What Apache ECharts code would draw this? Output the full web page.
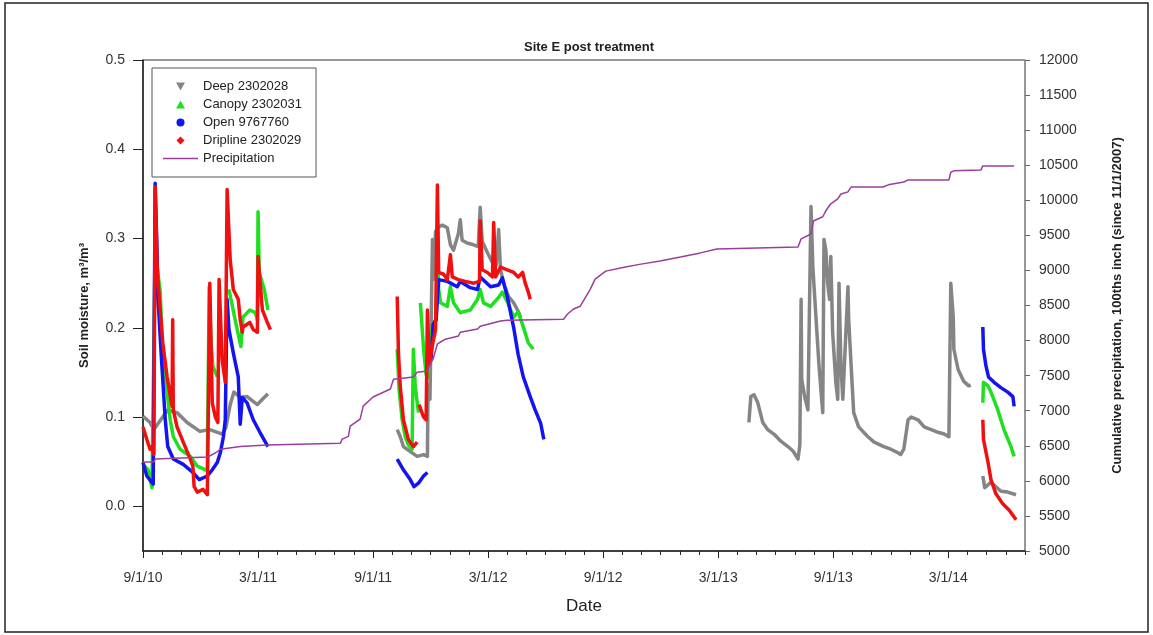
<!DOCTYPE html>
<html>
<head>
<meta charset="utf-8">
<title>Site E post treatment</title>
<script src="https://cdn.jsdelivr.net/npm/echarts/dist/echarts.min.js"></script>
<style>
  html, body { margin: 0; padding: 0; background: #fff; }
  #chart { width: 1153px; height: 635px; }
</style>
</head>
<body>
<div id="chart"></div>
<script>
// x tick labels (every 6 months from 9/1/10)
var xTickLabels = ['9/1/10', '3/1/11', '9/1/11', '3/1/12', '9/1/12', '3/1/13', '9/1/13', '3/1/14'];
var leftTicks = [0, 0.1, 0.2, 0.3, 0.4, 0.5];

// soil moisture readings, [date, m3/m3]; null = gap in the record
var deepData = [
  ['2010-09-01', 0.101], ['2010-09-12', 0.094], ['2010-09-18', 0.086], ['2010-10-10', 0.108],
  ['2010-10-25', 0.105], ['2010-11-10', 0.094], ['2010-11-30', 0.084], ['2010-12-16', 0.086],
  ['2011-01-05', 0.081], ['2011-01-11', 0.088], ['2011-01-18', 0.114], ['2011-01-24', 0.128],
  ['2011-02-03', 0.122], ['2011-02-13', 0.123], ['2011-02-28', 0.114], ['2011-03-08', 0.120],
  ['2011-03-17', 0.126],
  null,
  ['2011-10-09', 0.086], ['2011-10-14', 0.078], ['2011-10-19', 0.067], ['2011-10-25', 0.064],
  ['2011-11-02', 0.060], ['2011-11-10', 0.056], ['2011-11-20', 0.058], ['2011-11-26', 0.056],
  ['2011-11-27', 0.136], ['2011-11-30', 0.120], ['2011-12-04', 0.299], ['2011-12-05', 0.254],
  ['2011-12-09', 0.308], ['2011-12-14', 0.313], ['2011-12-20', 0.315], ['2011-12-28', 0.312],
  ['2012-01-02', 0.293], ['2012-01-07', 0.287], ['2012-01-15', 0.306], ['2012-01-18', 0.321],
  ['2012-01-21', 0.298], ['2012-01-29', 0.295], ['2012-02-08', 0.293], ['2012-02-15', 0.291],
  ['2012-02-18', 0.335], ['2012-02-21', 0.297], ['2012-02-29', 0.284], ['2012-03-08', 0.273],
  ['2012-03-14', 0.270], ['2012-03-18', 0.310], ['2012-03-21', 0.265], ['2012-03-27', 0.248],
  ['2012-04-03', 0.235], ['2012-04-11', 0.228], ['2012-04-17', 0.220], ['2012-04-22', 0.212],
  null,
  ['2013-04-19', 0.094], ['2013-04-22', 0.123], ['2013-04-27', 0.125], ['2013-05-03', 0.116],
  ['2013-05-11', 0.094], ['2013-05-19', 0.086], ['2013-05-29', 0.081], ['2013-06-09', 0.073],
  ['2013-06-20', 0.067], ['2013-06-28', 0.062], ['2013-07-06', 0.053], ['2013-07-09', 0.069],
  ['2013-07-11', 0.232], ['2013-07-12', 0.142], ['2013-07-17', 0.122], ['2013-07-22', 0.108],
  ['2013-07-27', 0.336], ['2013-07-30', 0.268], ['2013-08-04', 0.212], ['2013-08-09', 0.157],
  ['2013-08-15', 0.105], ['2013-08-17', 0.299], ['2013-08-20', 0.287], ['2013-08-23', 0.250],
  ['2013-08-26', 0.232], ['2013-08-28', 0.280], ['2013-08-31', 0.195], ['2013-09-05', 0.139],
  ['2013-09-08', 0.120], ['2013-09-10', 0.250], ['2013-09-13', 0.157], ['2013-09-16', 0.120],
  ['2013-09-24', 0.246], ['2013-09-25', 0.212], ['2013-09-29', 0.157], ['2013-10-03', 0.105],
  ['2013-10-11', 0.089], ['2013-10-26', 0.078], ['2013-11-05', 0.072], ['2013-11-20', 0.067],
  ['2013-12-01', 0.064], ['2013-12-13', 0.060], ['2013-12-17', 0.058], ['2013-12-22', 0.064],
  ['2013-12-29', 0.097], ['2014-01-03', 0.100], ['2014-01-14', 0.097], ['2014-01-24', 0.089],
  ['2014-02-04', 0.086], ['2014-02-14', 0.083], ['2014-02-23', 0.081], ['2014-03-02', 0.078],
  ['2014-03-05', 0.250], ['2014-03-09', 0.212], ['2014-03-10', 0.176], ['2014-03-17', 0.153],
  ['2014-03-26', 0.140], ['2014-04-03', 0.135], ['2014-04-06', 0.136],
  null,
  ['2014-04-25', 0.034], ['2014-04-28', 0.021], ['2014-05-08', 0.027], ['2014-05-24', 0.017],
  ['2014-06-04', 0.016], ['2014-06-17', 0.013]
];

var canopyData = [
  ['2010-09-01', 0.047], ['2010-09-09', 0.041], ['2010-09-15', 0.021], ['2010-09-20', 0.287],
  ['2010-09-28', 0.240], ['2010-10-02', 0.164], ['2010-10-09', 0.128], ['2010-10-14', 0.097],
  ['2010-10-19', 0.078], ['2010-10-30', 0.064], ['2010-11-15', 0.056], ['2010-11-26', 0.045],
  ['2010-12-12', 0.040], ['2010-12-15', 0.246], ['2010-12-18', 0.183], ['2010-12-21', 0.157],
  ['2010-12-28', 0.145],
  null,
  ['2011-01-16', 0.243], ['2011-01-26', 0.209], ['2011-02-04', 0.179], ['2011-02-07', 0.212],
  ['2011-02-17', 0.220], ['2011-02-25', 0.217], ['2011-02-28', 0.209], ['2011-03-01', 0.330],
  ['2011-03-03', 0.262], ['2011-03-11', 0.243], ['2011-03-17', 0.220],
  null,
  ['2011-10-09', 0.176], ['2011-10-12', 0.131], ['2011-10-17', 0.097], ['2011-10-22', 0.078],
  ['2011-10-27', 0.069], ['2011-11-02', 0.064], ['2011-11-04', 0.176], ['2011-11-07', 0.134],
  ['2011-11-12', 0.105],
  null,
  ['2011-11-15', 0.228], ['2011-11-20', 0.176], ['2011-11-24', 0.148], ['2011-11-26', 0.144],
  ['2011-11-30', 0.183], ['2011-12-05', 0.206], ['2011-12-10', 0.209], ['2011-12-12', 0.310],
  ['2011-12-14', 0.243], ['2011-12-17', 0.228], ['2011-12-28', 0.224], ['2012-01-02', 0.246],
  ['2012-01-07', 0.228], ['2012-01-18', 0.217], ['2012-02-03', 0.220], ['2012-02-14', 0.232],
  ['2012-02-18', 0.243], ['2012-02-23', 0.228], ['2012-03-05', 0.224], ['2012-03-18', 0.234],
  ['2012-03-24', 0.240], ['2012-04-01', 0.229], ['2012-04-11', 0.212], ['2012-04-18', 0.218],
  ['2012-04-26', 0.201], ['2012-05-04', 0.183], ['2012-05-12', 0.176],
  null,
  ['2014-04-25', 0.116], ['2014-04-26', 0.139], ['2014-05-03', 0.135], ['2014-05-08', 0.128],
  ['2014-05-19', 0.108], ['2014-05-29', 0.086], ['2014-06-09', 0.067], ['2014-06-14', 0.056]
];

var openData = [
  ['2010-09-01', 0.049], ['2010-09-07', 0.034], ['2010-09-17', 0.025], ['2010-09-20', 0.362],
  ['2010-09-23', 0.284], ['2010-09-24', 0.239], ['2010-09-30', 0.164], ['2010-10-06', 0.097],
  ['2010-10-10', 0.067], ['2010-10-19', 0.053], ['2010-11-04', 0.047], ['2010-11-19', 0.038],
  ['2010-11-29', 0.030], ['2010-12-12', 0.034], ['2010-12-20', 0.041], ['2010-12-28', 0.049],
  ['2011-01-02', 0.060], ['2011-01-07', 0.078], ['2011-01-10', 0.097], ['2011-01-13', 0.232],
  ['2011-01-16', 0.198], ['2011-01-23', 0.172], ['2011-01-31', 0.145], ['2011-02-03', 0.092],
  ['2011-02-06', 0.122], ['2011-02-13', 0.116], ['2011-02-22', 0.097], ['2011-03-04', 0.083],
  ['2011-03-17', 0.067],
  null,
  ['2011-10-09', 0.053], ['2011-10-19', 0.041], ['2011-10-30', 0.030], ['2011-11-05', 0.022],
  ['2011-11-12', 0.026], ['2011-11-20', 0.034], ['2011-11-26', 0.038],
  null,
  ['2011-11-27', 0.176], ['2011-12-02', 0.167], ['2011-12-05', 0.204], ['2011-12-10', 0.209],
  ['2011-12-14', 0.254], ['2011-12-28', 0.252], ['2012-01-13', 0.246], ['2012-01-18', 0.252],
  ['2012-02-03', 0.245], ['2012-02-14', 0.243], ['2012-02-18', 0.257], ['2012-03-05', 0.246],
  ['2012-03-18', 0.248], ['2012-03-24', 0.256], ['2012-04-01', 0.235], ['2012-04-11', 0.200],
  ['2012-04-18', 0.170], ['2012-04-26', 0.145], ['2012-05-07', 0.123], ['2012-05-15', 0.108],
  ['2012-05-24', 0.093], ['2012-05-29', 0.075],
  null,
  ['2014-04-25', 0.201], ['2014-04-26', 0.176], ['2014-04-30', 0.157], ['2014-05-04', 0.145],
  ['2014-05-13', 0.139], ['2014-05-24', 0.133], ['2014-06-04', 0.128], ['2014-06-12', 0.123],
  ['2014-06-14', 0.112]
];

var driplineData = [
  ['2010-09-01', 0.089], ['2010-09-07', 0.075], ['2010-09-12', 0.064], ['2010-09-15', 0.067],
  ['2010-09-18', 0.058], ['2010-09-20', 0.358], ['2010-09-23', 0.276], ['2010-09-24', 0.257],
  ['2010-10-02', 0.183], ['2010-10-09', 0.145], ['2010-10-17', 0.112], ['2010-10-18', 0.209],
  ['2010-10-19', 0.108], ['2010-10-25', 0.089],
  ['2010-11-04', 0.072], ['2010-11-15', 0.053], ['2010-11-19', 0.045], ['2010-11-21', 0.022],
  ['2010-11-26', 0.016], ['2010-12-05', 0.019], ['2010-12-12', 0.013], ['2010-12-15', 0.013],
  ['2010-12-16', 0.250], ['2010-12-20', 0.116], ['2010-12-25', 0.100], ['2010-12-29', 0.094],
  ['2010-12-31', 0.254], ['2011-01-05', 0.164], ['2011-01-10', 0.139], ['2011-01-13', 0.355],
  ['2011-01-18', 0.276], ['2011-01-23', 0.243], ['2011-01-31', 0.232], ['2011-02-03', 0.209],
  ['2011-02-06', 0.195], ['2011-02-07', 0.201], ['2011-02-17', 0.206], ['2011-02-22', 0.198],
  ['2011-02-28', 0.195], ['2011-03-01', 0.280], ['2011-03-08', 0.220], ['2011-03-16', 0.206],
  ['2011-03-21', 0.198],
  null,
  ['2011-10-09', 0.235], ['2011-10-11', 0.172], ['2011-10-14', 0.134], ['2011-10-19', 0.097],
  ['2011-10-27', 0.075], ['2011-11-04', 0.067], ['2011-11-10', 0.072],
  null,
  ['2011-11-13', 0.114], ['2011-11-20', 0.100], ['2011-11-24', 0.097], ['2011-11-26', 0.220],
  ['2011-11-29', 0.159], ['2011-12-04', 0.181], ['2011-12-09', 0.198], ['2011-12-12', 0.360],
  ['2011-12-14', 0.262], ['2011-12-22', 0.260], ['2011-12-28', 0.254], ['2012-01-02', 0.282],
  ['2012-01-05', 0.257], ['2012-01-15', 0.254], ['2012-01-26', 0.252], ['2012-02-08', 0.250],
  ['2012-02-17', 0.252], ['2012-02-18', 0.320], ['2012-02-21', 0.265], ['2012-02-29', 0.262],
  ['2012-03-08', 0.257], ['2012-03-10', 0.318], ['2012-03-13', 0.257], ['2012-03-21', 0.268],
  ['2012-04-01', 0.265], ['2012-04-11', 0.262], ['2012-04-18', 0.257], ['2012-04-25', 0.262],
  ['2012-04-29', 0.250], ['2012-05-04', 0.240], ['2012-05-07', 0.232],
  null,
  ['2014-04-25', 0.097], ['2014-04-26', 0.075], ['2014-05-03', 0.050], ['2014-05-08', 0.030],
  ['2014-05-16', 0.014], ['2014-05-27', 0.003], ['2014-06-06', -0.004], ['2014-06-14', -0.012],
  ['2014-06-17', -0.015]
];

// cumulative precipitation, 100ths inch since 11/1/2007
var precipData = [
  ['2010-09-01', 6270], ['2010-09-18', 6270], ['2010-09-20', 6310], ['2010-12-12', 6340],
  ['2010-12-18', 6365], ['2010-12-29', 6420], ['2011-01-02', 6450], ['2011-02-03', 6490],
  ['2011-03-16', 6510], ['2011-07-10', 6535], ['2011-07-13', 6595], ['2011-07-23', 6635],
  ['2011-07-26', 6780], ['2011-08-11', 6880], ['2011-08-16', 7065], ['2011-09-01', 7195],
  ['2011-09-28', 7310], ['2011-10-03', 7450], ['2011-11-04', 7480], ['2011-11-10', 7550],
  ['2011-11-26', 7565], ['2011-11-30', 7665], ['2011-12-05', 7735], ['2011-12-12', 7950],
  ['2011-12-17', 7980], ['2011-12-25', 8020], ['2012-01-15', 8065], ['2012-01-18', 8120],
  ['2012-02-14', 8165], ['2012-02-18', 8205], ['2012-03-21', 8280], ['2012-04-01', 8290],
  ['2012-06-29', 8305], ['2012-07-05', 8375], ['2012-07-15', 8450], ['2012-07-26', 8490],
  ['2012-08-11', 8730], ['2012-08-19', 8875], ['2012-09-05', 8990], ['2012-10-06', 9050],
  ['2012-10-31', 9090], ['2012-11-30', 9135], ['2013-01-02', 9190], ['2013-02-03', 9250],
  ['2013-02-27', 9305], ['2013-07-06', 9335], ['2013-07-11', 9450], ['2013-07-27', 9520],
  ['2013-07-31', 9705], ['2013-08-15', 9765], ['2013-08-20', 9850], ['2013-08-28', 9950],
  ['2013-09-08', 10020], ['2013-09-13', 10090], ['2013-09-24', 10120], ['2013-09-29', 10190],
  ['2013-11-19', 10190], ['2013-11-27', 10220], ['2013-12-22', 10260], ['2013-12-29', 10290],
  ['2014-03-02', 10290], ['2014-03-05', 10400], ['2014-03-10', 10420], ['2014-04-22', 10430],
  ['2014-04-25', 10490], ['2014-06-14', 10490]
];

// months since 9/1/10 (fractional)
function toMonths(s) {
  var p = s.split('-');
  var y = +p[0], m = +p[1], d = +p[2];
  var dim = new Date(y, m, 0).getDate();
  return (y - 2010) * 12 + (m - 9) + (d - 1) / dim;
}

function build(list) {
  var out = [];
  var lastX = 0;
  for (var i = 0; i < list.length; i++) {
    if (list[i] === null) {
      out.push([lastX, '-']);
    } else {
      lastX = toMonths(list[i][0]);
      out.push([lastX, list[i][1]]);
    }
  }
  return out;
}

var majorTicks = xTickLabels.map(function (l, i) { return i * 6; });
var monthTicks = [];
for (var k = 0; k <= 46; k++) monthTicks.push(k);

var font = 'Liberation Sans, Arial, sans-serif';

function soil(name, data, color) {
  return {
    name: name,
    type: 'line',
    data: build(data),
    xAxisIndex: 0,
    yAxisIndex: 0,
    symbol: 'none',
    connectNulls: false,
    lineStyle: { color: color, width: 3.5, join: 'round' },
    itemStyle: { color: color }
  };
}

var chart = echarts.init(document.getElementById('chart'));

var option = {
  animation: false,
  backgroundColor: '#fff',
  title: {
    text: 'Site E post treatment',
    left: 584,
    top: 36,
    textAlign: 'center',
    textStyle: { fontFamily: font, fontSize: 13, fontWeight: 'bold', color: '#222' }
  },
  legend: {
    orient: 'vertical',
    left: 152,
    top: 68,
    padding: [12, 14, 12, 11],
    itemWidth: 35,
    itemHeight: 8,
    itemGap: 5,
    borderColor: '#555',
    borderWidth: 1,
    selectedMode: false,
    textStyle: { fontFamily: font, fontSize: 13, color: '#222' },
    data: [
      { name: 'Deep 2302028', icon: 'path://M0,0L10,0L5,9Z' },
      { name: 'Canopy 2302031', icon: 'path://M5,0L10,9L0,9Z' },
      { name: 'Open 9767760', icon: 'circle' },
      { name: 'Dripline 2302029', icon: 'path://M5,0L10,5L5,10L0,5Z' },
      { name: 'Precipitation', icon: 'path://M0,0H35V1.6H0Z' }
    ]
  },
  grid: {
    left: 143,
    right: 128,
    top: 60,
    bottom: 84,
    show: true,
    borderColor: '#333',
    borderWidth: 1
  },
  xAxis: [
    {
      type: 'value',
      min: 0,
      max: 46,
      name: 'Date',
      nameLocation: 'middle',
      nameGap: 47,
      nameTextStyle: { fontFamily: font, fontSize: 17, color: '#222' },
      axisLine: { onZero: false, lineStyle: { color: '#222', width: 1.5 } },
      axisTick: { show: true, length: 7, customValues: majorTicks, lineStyle: { color: '#222' } },
      axisLabel: {
        customValues: majorTicks,
        margin: 20,
        fontFamily: font,
        fontSize: 14,
        color: '#333',
        formatter: function (v) { return xTickLabels[Math.round(v / 6)]; }
      },
      splitLine: { show: false }
    },
    {
      // monthly minor ticks
      type: 'value',
      min: 0,
      max: 46,
      position: 'bottom',
      axisLine: { show: false, onZero: false },
      axisTick: { show: true, length: 4, customValues: monthTicks, lineStyle: { color: '#222' } },
      axisLabel: { show: false },
      splitLine: { show: false }
    }
  ],
  yAxis: [
    {
      type: 'value',
      min: -0.05,
      max: 0.5,
      name: 'Soil moisture, m\u00b3/m\u00b3',
      nameLocation: 'middle',
      nameGap: 52,
      nameTextStyle: { fontFamily: font, fontSize: 13, fontWeight: 'bold', color: '#222' },
      axisLine: { show: true, onZero: false, lineStyle: { color: '#222', width: 1.5 } },
      axisTick: { show: true, length: 10, customValues: leftTicks, lineStyle: { color: '#222' } },
      axisLabel: {
        customValues: leftTicks,
        margin: 18,
        fontFamily: font,
        fontSize: 14,
        color: '#333',
        formatter: function (v) { return v.toFixed(1); }
      },
      splitLine: { show: false }
    },
    {
      type: 'value',
      min: 5000,
      max: 12000,
      interval: 500,
      position: 'right',
      name: 'Cumulative precipitation, 100ths inch (since 11/1/2007)',
      nameLocation: 'middle',
      nameRotate: 90,
      nameGap: 86,
      nameTextStyle: { fontFamily: font, fontSize: 13, fontWeight: 'bold', color: '#222' },
      axisLine: { show: true, onZero: false, lineStyle: { color: '#999', width: 1.5 } },
      axisTick: { show: true, length: 5, lineStyle: { color: '#666' } },
      axisLabel: {
        margin: 14,
        fontFamily: font,
        fontSize: 14,
        color: '#333',
        formatter: function (v) { return String(v); }
      },
      splitLine: { show: false }
    }
  ],
  graphic: [
    {
      type: 'rect',
      shape: { x: 5, y: 3, width: 1143, height: 629 },
      style: { fill: 'none', stroke: '#222', lineWidth: 1.5 },
      silent: true
    }
  ],
  series: [
    soil('Deep 2302028', deepData, '#858585'),
    soil('Canopy 2302031', canopyData, '#1ee01e'),
    soil('Open 9767760', openData, '#1414f0'),
    soil('Dripline 2302029', driplineData, '#f01010'),
    {
      name: 'Precipitation',
      type: 'line',
      data: build(precipData),
      xAxisIndex: 0,
      yAxisIndex: 1,
      symbol: 'none',
      lineStyle: { color: '#9b3e9b', width: 1.5 },
      itemStyle: { color: '#9b3e9b' }
    }
  ]
};

chart.setOption(option);
</script>
</body>
</html>
